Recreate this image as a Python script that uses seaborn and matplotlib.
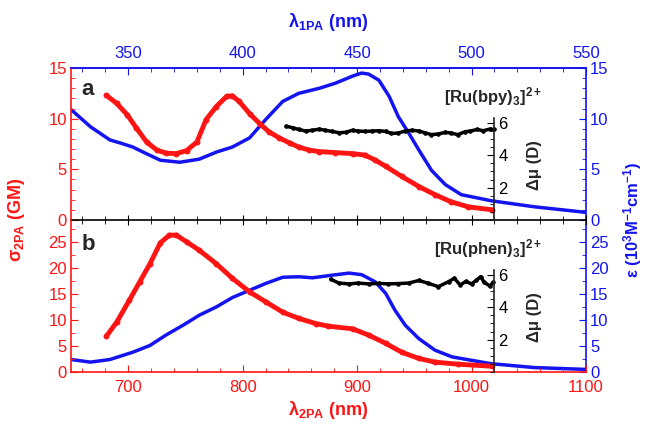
import numpy as np
import matplotlib
matplotlib.use('Agg')
import matplotlib.pyplot as plt
import seaborn as sns
from matplotlib.ticker import MultipleLocator

# ---- data ----
# panel a : [Ru(bpy)3]2+
wl_a_sig = [681, 690, 699, 707, 716, 725, 733, 742, 751, 760, 768, 777, 786, 791, 797, 806,
            815, 823, 832, 841, 849, 858, 867, 881, 896, 907, 916, 925, 939, 954, 968, 982, 997, 1018]
sig_a = [12.3, 11.5, 10.4, 9.1, 7.7, 6.9, 6.6, 6.55, 6.85, 7.7, 9.9, 11.2, 12.2, 12.25, 11.7, 10.5,
         9.5, 8.7, 8.1, 7.6, 7.2, 6.9, 6.75, 6.65, 6.55, 6.4, 5.9, 5.3, 4.3, 3.3, 2.5, 1.8, 1.3, 1.0]

wl_a_eps = [650, 667, 684, 693, 704, 713, 728, 745, 762, 777, 791, 806, 820, 835, 849, 867, 881,
            896, 904, 910, 919, 928, 936, 945, 954, 965, 977, 991, 1017, 1055, 1100]
eps_a = [10.9, 9.2, 7.9, 7.6, 7.2, 6.7, 5.9, 5.7, 6.0, 6.7, 7.2, 8.1, 9.9, 11.7, 12.5, 13.0, 13.5,
         14.2, 14.5, 14.4, 13.8, 12.2, 10.2, 8.6, 6.9, 4.9, 3.5, 2.5, 1.9, 1.3, 0.75]

wl_a_mu = [838, 844, 849, 855, 861, 867, 872, 878, 884, 890, 896, 901, 907, 913, 919, 925, 930,
           936, 942, 948, 954, 959, 965, 971, 977, 982, 988, 994, 999, 1005, 1010, 1016, 1020]
mu_a = [5.8, 5.7, 5.6, 5.5, 5.55, 5.62, 5.55, 5.48, 5.4, 5.42, 5.55, 5.5, 5.48, 5.5, 5.52, 5.48, 5.35,
        5.38, 5.5, 5.55, 5.5, 5.4, 5.28, 5.32, 5.42, 5.38, 5.28, 5.45, 5.5, 5.6, 5.52, 5.62, 5.6]

# panel b : [Ru(phen)3]2+
wl_b_sig = [681, 690, 701, 710, 719, 728, 736, 742, 751, 762, 777, 791, 806, 820, 835, 849, 864,
            875, 896, 910, 925, 939, 954, 968, 988, 1018]
sig_b = [6.9, 9.6, 13.8, 17.3, 20.8, 24.8, 26.3, 26.3, 25.0, 23.4, 20.8, 18.0, 15.4, 13.5, 11.5, 10.3, 9.3,
         8.8, 8.3, 7.1, 5.5, 3.8, 2.6, 1.9, 1.5, 1.1]

wl_b_eps = [650, 667, 684, 704, 719, 733, 748, 762, 777, 791, 806, 820, 835, 849, 861, 878, 893,
            904, 916, 925, 933, 942, 954, 968, 983, 1017, 1055, 1100]
eps_b = [2.4, 1.9, 2.4, 3.8, 5.1, 7.1, 9.0, 10.9, 12.5, 14.3, 15.7, 17.0, 18.2, 18.3, 18.1, 18.6, 19.0,
         18.7, 17.3, 15.1, 11.9, 9.0, 6.4, 4.2, 2.9, 1.6, 0.85, 0.5]

wl_b_mu = [877, 884, 893, 901, 910, 919, 927, 936, 945, 954, 962, 971, 980, 985, 990, 995, 1000,
           1004, 1008, 1011, 1016, 1019]
mu_b = [5.74, 5.5, 5.45, 5.5, 5.45, 5.48, 5.45, 5.47, 5.5, 5.66, 5.49, 5.28, 5.59, 5.8, 5.38, 5.6, 5.45,
        5.66, 5.9, 5.55, 5.32, 5.55]

mu_ticks = [2, 4, 6]
sig_a_ticks = [0, 5, 10, 15]
sig_b_ticks = [0, 5, 10, 15, 20, 25]

# ---- style ----
sns.set_style('ticks')
plt.rcParams['font.family'] = ['Liberation Sans', 'DejaVu Sans']
plt.rcParams['mathtext.fontset'] = 'custom'
plt.rcParams['mathtext.rm'] = 'Liberation Sans'
plt.rcParams['mathtext.it'] = 'Liberation Sans:italic'
plt.rcParams['mathtext.bf'] = 'Liberation Sans:bold'
plt.rcParams['font.size'] = 12

RED = '#ff1414'
BLUE = '#1414f0'

fig = plt.figure(figsize=(6.49, 4.25), dpi=100)
ax_a = fig.add_axes([0.1094, 0.4824, 0.7935, 0.3576])
ax_b = fig.add_axes([0.1094, 0.1247, 0.7935, 0.3576], sharex=ax_a)


def draw_panel(ax, wl_s, sig, wl_e, eps, wl_m, mu, ymax, yticks, yminor, name, letter, letter_y):
    ax_e = ax.twinx()
    ax_m = ax.twinx()

    sns.lineplot(x=wl_e, y=eps, ax=ax_e, color=BLUE, lw=2.5)
    sns.lineplot(x=wl_s, y=sig, ax=ax, color=RED, lw=3.5, marker='o', ms=3.5, mec=RED)
    sns.lineplot(x=wl_m, y=mu, ax=ax_m, color='black', lw=2.5, marker='o', ms=2.5, mec='black')

    # red on top of blue
    ax.set_zorder(ax_e.get_zorder() + 1)
    ax_m.set_zorder(ax.get_zorder() + 1)
    ax.patch.set_visible(False)

    ax.set_xlim(650, 1100)
    ax.set_ylim(0, ymax)
    ax_e.set_ylim(0, ymax)
    ax_m.set_ylim(0, 9.4)
    for a in (ax, ax_e, ax_m):
        a.set_xlabel('')
        a.set_ylabel('')

    ax.set_yticks(yticks)
    ax.yaxis.set_minor_locator(MultipleLocator(yminor))
    ax_e.set_yticks(yticks)
    ax_e.yaxis.set_minor_locator(MultipleLocator(yminor))

    ax.tick_params(axis='y', which='both', colors=RED, direction='in', right=False, labelsize=12, pad=3)
    ax.tick_params(axis='y', which='major', length=5)
    ax.tick_params(axis='y', which='minor', length=3)
    ax_e.tick_params(axis='y', which='both', colors=BLUE, direction='in', labelsize=12, pad=3)
    ax_e.tick_params(axis='y', which='major', length=5)
    ax_e.tick_params(axis='y', which='minor', length=3)

    ax.spines['left'].set_color(RED)
    ax.spines['right'].set_visible(False)
    for s in ('left', 'top', 'bottom'):
        ax_e.spines[s].set_visible(False)
    ax_e.spines['right'].set_color(BLUE)
    for s in ('left', 'top', 'bottom'):
        ax_m.spines[s].set_visible(False)
    for sp in ax.spines.values():
        sp.set_linewidth(1.2)
    ax_e.spines['right'].set_linewidth(1.2)

    # delta-mu axis at 1020 nm
    ax_m.spines['right'].set_position(('data', 1020))
    ax_m.spines['right'].set_bounds(0, 6.3)
    ax_m.spines['right'].set_linewidth(1.2)
    ax_m.set_yticks(mu_ticks)
    ax_m.set_yticks(np.arange(0, 6.01, 0.5), minor=True)
    ax_m.tick_params(axis='y', which='both', colors='black', direction='in', labelsize=12, pad=3)
    ax_m.tick_params(axis='y', which='major', length=5)
    ax_m.tick_params(axis='y', which='minor', length=3)

    ax.text(0.021, letter_y, letter, transform=ax.transAxes, fontsize=16, fontweight='bold',
            ha='left', va='center')
    ax.text(0.915, 0.81, name, transform=ax.transAxes, fontsize=12, fontweight='bold',
            ha='right', va='center')
    ax.text(0.9, 0.36, 'Δμ (D)', transform=ax.transAxes, fontsize=12, fontweight='bold',
            rotation=90, ha='center', va='center')
    return ax_e, ax_m


draw_panel(ax_a, wl_a_sig, sig_a, wl_a_eps, eps_a, wl_a_mu, mu_a, 15, sig_a_ticks, 1,
           r'[Ru(bpy)$_\mathbf{3}$]$^\mathbf{2+}$', 'a', 0.86)
draw_panel(ax_b, wl_b_sig, sig_b, wl_b_eps, eps_b, wl_b_mu, mu_b, 29.2, sig_b_ticks, 2.5,
           r'[Ru(phen)$_\mathbf{3}$]$^\mathbf{2+}$', 'b', 0.84)

# x axes
ax_b.xaxis.set_major_locator(MultipleLocator(100))
ax_b.xaxis.set_minor_locator(MultipleLocator(20))
ax_a.tick_params(axis='x', which='both', direction='inout', colors='black', labelbottom=False, top=False)
ax_a.tick_params(axis='x', which='major', length=7)
ax_a.tick_params(axis='x', which='minor', length=6)
ax_a.spines['bottom'].set_color('black')
ax_a.spines['top'].set_color(BLUE)
ax_b.spines['top'].set_visible(False)
ax_b.spines['bottom'].set_color(RED)
ax_b.tick_params(axis='x', which='both', direction='in', colors=RED, top=False, labelsize=12, pad=6)
ax_b.tick_params(axis='x', which='major', length=5)
ax_b.tick_params(axis='x', which='minor', length=3)

sec = ax_a.secondary_xaxis('top', functions=(lambda x: x / 2, lambda x: x * 2))
sec.xaxis.set_major_locator(MultipleLocator(50))
sec.xaxis.set_minor_locator(MultipleLocator(10))
sec.tick_params(axis='x', which='both', direction='in', colors=BLUE, labelsize=12, pad=5)
sec.tick_params(axis='x', which='major', length=5)
sec.tick_params(axis='x', which='minor', length=3)
sec.spines['top'].set_color(BLUE)
sec.spines['top'].set_linewidth(1.2)

# axis titles
fig.text(0.5062, 0.035, r'λ$_\mathbf{2PA}$ (nm)', color=RED, fontsize=13, fontweight='bold',
         ha='center', va='center')
fig.text(0.5062, 0.948, r'λ$_\mathbf{1PA}$ (nm)', color=BLUE, fontsize=13, fontweight='bold',
         ha='center', va='center')
fig.text(0.025, 0.482, r'σ$_\mathbf{2PA}$ (GM)', color=RED, fontsize=13, fontweight='bold',
         rotation=90, ha='center', va='center')
fig.text(0.975, 0.482, r'ε (10$^\mathbf{3}$M$^\mathbf{-1}$cm$^\mathbf{-1}$)', color=BLUE, fontsize=12,
         fontweight='bold', rotation=90, ha='center', va='center')

fig.savefig('out.png', dpi=100)
